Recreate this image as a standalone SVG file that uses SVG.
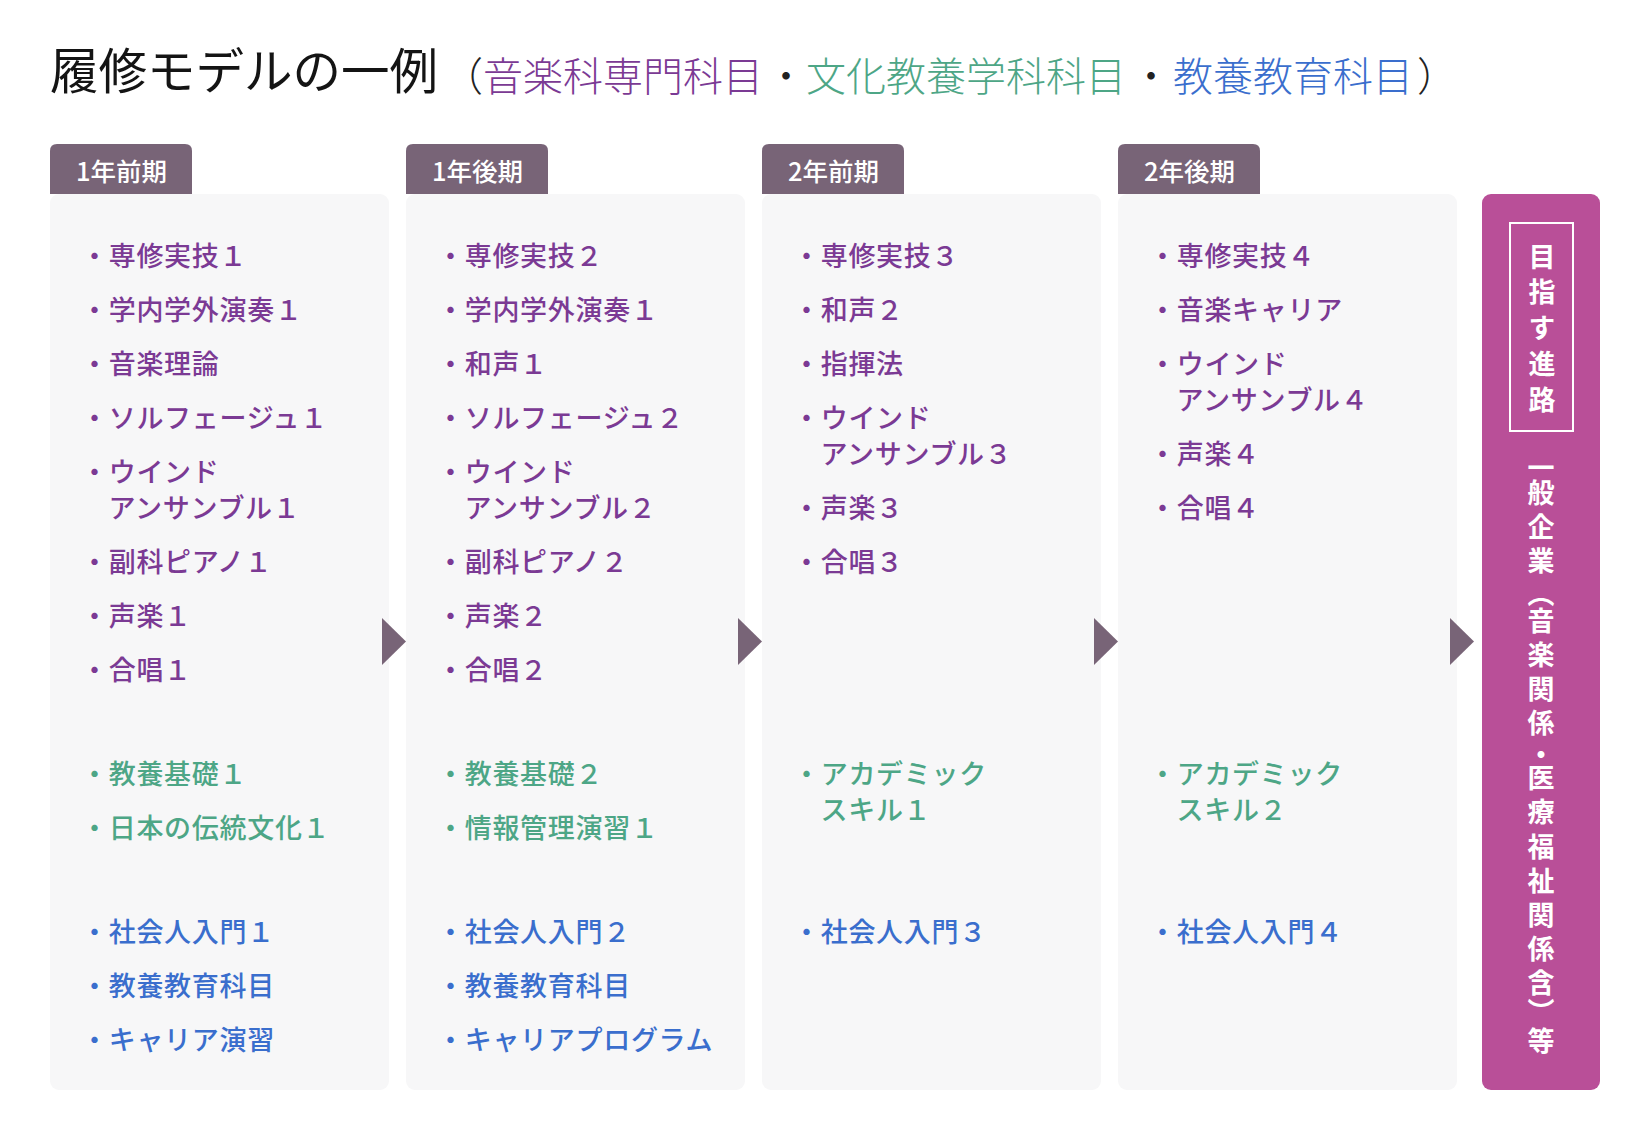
<svg xmlns="http://www.w3.org/2000/svg" width="1648" height="1138" viewBox="0 0 1648 1138">
<style>
text{font-family:"Noto Sans CJK JP","Noto Sans",sans-serif}
.bg{fill:#ffffff}
.tab{fill:#786477}
.panel{fill:#f7f7f8}
.arrow{fill:#786477}
.tabt{font-size:25.5px;font-weight:500;fill:#ffffff}
.t{font-size:27px;font-weight:500;letter-spacing:0.7px}
.p{fill:#7b3a94}
.g{fill:#4da686}
.b{fill:#3a6ecd}
.title{font-family:"Liberation Serif","Noto Sans CJK JP",serif;fill:#141414}
.vt{font-size:27px;font-weight:700;fill:#ffffff;writing-mode:vertical-rl}
</style>
<rect class="bg" x="0" y="0" width="1648" height="1138"/>
<g id="title">
<text class="title" x="50" y="89" font-size="48.5" font-weight="400">履修モデルの一例</text>
<text class="title" x="443" y="91" font-size="40" font-weight="300"><tspan fill="#222">（</tspan><tspan class="p">音楽科専門科目</tspan><tspan fill="#222" dx="3">・</tspan><tspan class="g">文化教養学科科目</tspan><tspan fill="#222" dx="5">・</tspan><tspan class="b" dx="2">教養教育科目</tspan><tspan fill="#222" dx="4">）</tspan></text>
</g>
<g id="col1">
<rect class="panel" x="50" y="194" width="339" height="896" rx="9"/>
<path class="tab" d="M50,194 V151 Q50,144 57,144 H185 Q192,144 192,151 V194 Z"/>
<text class="tabt" x="76" y="181">1年前期</text>
<g class="t">
<text class="p" x="81" y="266">・専修実技１</text>
<text class="p" x="81" y="320">・学内学外演奏１</text>
<text class="p" x="81" y="374">・音楽理論</text>
<text class="p" x="81" y="428">・ソルフェージュ１</text>
<text class="p" x="81" y="482">・ウインド<tspan x="108.5" dy="36">アンサンブル１</tspan></text>
<text class="p" x="81" y="572">・副科ピアノ１</text>
<text class="p" x="81" y="626">・声楽１</text>
<text class="p" x="81" y="680">・合唱１</text>
<text class="g" x="81" y="784">・教養基礎１</text>
<text class="g" x="81" y="838">・日本の伝統文化１</text>
<text class="b" x="81" y="942">・社会人入門１</text>
<text class="b" x="81" y="996">・教養教育科目</text>
<text class="b" x="81" y="1050">・キャリア演習</text>
</g>
</g>
<g id="col2">
<rect class="panel" x="406" y="194" width="339" height="896" rx="9"/>
<path class="tab" d="M406,194 V151 Q406,144 413,144 H541 Q548,144 548,151 V194 Z"/>
<text class="tabt" x="432" y="181">1年後期</text>
<g class="t">
<text class="p" x="437" y="266">・専修実技２</text>
<text class="p" x="437" y="320">・学内学外演奏１</text>
<text class="p" x="437" y="374">・和声１</text>
<text class="p" x="437" y="428">・ソルフェージュ２</text>
<text class="p" x="437" y="482">・ウインド<tspan x="464.5" dy="36">アンサンブル２</tspan></text>
<text class="p" x="437" y="572">・副科ピアノ２</text>
<text class="p" x="437" y="626">・声楽２</text>
<text class="p" x="437" y="680">・合唱２</text>
<text class="g" x="437" y="784">・教養基礎２</text>
<text class="g" x="437" y="838">・情報管理演習１</text>
<text class="b" x="437" y="942">・社会人入門２</text>
<text class="b" x="437" y="996">・教養教育科目</text>
<text class="b" x="437" y="1050">・キャリアプログラム</text>
</g>
</g>
<g id="col3">
<rect class="panel" x="762" y="194" width="339" height="896" rx="9"/>
<path class="tab" d="M762,194 V151 Q762,144 769,144 H897 Q904,144 904,151 V194 Z"/>
<text class="tabt" x="788" y="181">2年前期</text>
<g class="t">
<text class="p" x="793" y="266">・専修実技３</text>
<text class="p" x="793" y="320">・和声２</text>
<text class="p" x="793" y="374">・指揮法</text>
<text class="p" x="793" y="428">・ウインド<tspan x="820.5" dy="36">アンサンブル３</tspan></text>
<text class="p" x="793" y="518">・声楽３</text>
<text class="p" x="793" y="572">・合唱３</text>
<text class="g" x="793" y="784">・アカデミック<tspan x="820.5" dy="36">スキル１</tspan></text>
<text class="b" x="793" y="942">・社会人入門３</text>
</g>
</g>
<g id="col4">
<rect class="panel" x="1118" y="194" width="339" height="896" rx="9"/>
<path class="tab" d="M1118,194 V151 Q1118,144 1125,144 H1253 Q1260,144 1260,151 V194 Z"/>
<text class="tabt" x="1144" y="181">2年後期</text>
<g class="t">
<text class="p" x="1149" y="266">・専修実技４</text>
<text class="p" x="1149" y="320">・音楽キャリア</text>
<text class="p" x="1149" y="374">・ウインド<tspan x="1176.5" dy="36">アンサンブル４</tspan></text>
<text class="p" x="1149" y="464">・声楽４</text>
<text class="p" x="1149" y="518">・合唱４</text>
<text class="g" x="1149" y="784">・アカデミック<tspan x="1176.5" dy="36">スキル２</tspan></text>
<text class="b" x="1149" y="942">・社会人入門４</text>
</g>
</g>
<g id="goal">
<rect x="1482" y="194" width="118" height="896" rx="9" fill="#b94f98"/>
<rect x="1510" y="223" width="63" height="208" fill="none" stroke="#ffffff" stroke-width="2"/>
<text class="vt" x="1542" y="243.5 278.5 314.5 350.5 386.5">目指す進路</text>
<text class="vt" x="1541" y="454.5 479.5 513.5 547.5 580.5 607.5 641.5 675.5 709.5 741.5 764.5 798.5 833.5 867.5 901.5 935.5 969.5 998.5 1027.5">一般企業（音楽関係・医療福祉関係含）等</text>
</g>
<g id="connectors">
<polygon class="arrow" points="382,618 406,641.5 382,665"/>
<polygon class="arrow" points="738,618 762,641.5 738,665"/>
<polygon class="arrow" points="1094,618 1118,641.5 1094,665"/>
<polygon class="arrow" points="1450,618 1474,641.5 1450,665"/>
</g>
</svg>
